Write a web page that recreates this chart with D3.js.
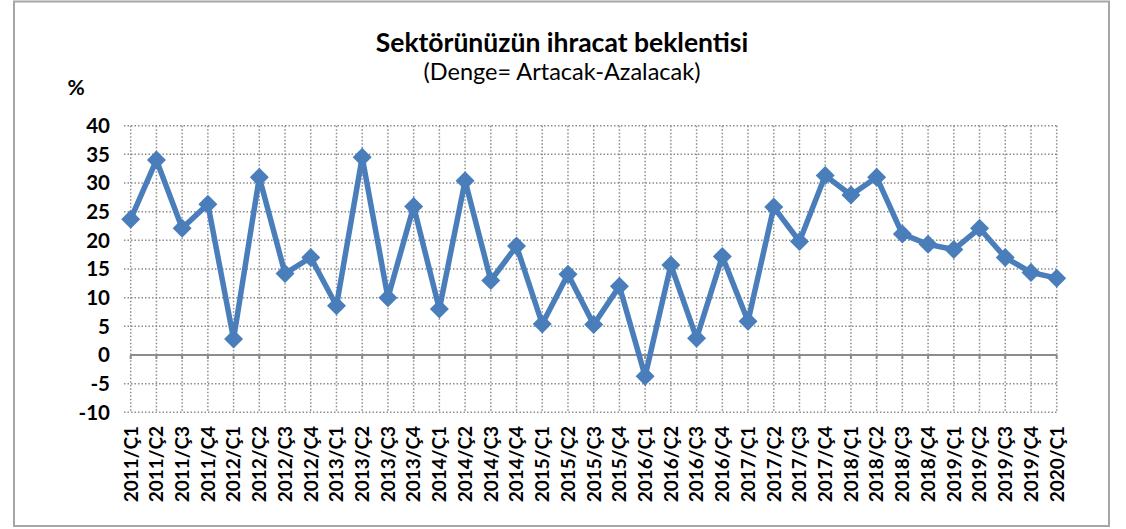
<!DOCTYPE html>
<html><head><meta charset="utf-8">
<script src="https://cdn.jsdelivr.net/npm/d3@7/dist/d3.min.js"></script>
<style>body{margin:0;background:#fff}svg{display:block}text{font-family:Lato,"Open Sans",sans-serif}</style>
</head><body><svg id="c" width="1126" height="529"></svg>
<script>
const categories = ["2011/Ç1","2011/Ç2","2011/Ç3","2011/Ç4","2012/Ç1","2012/Ç2","2012/Ç3","2012/Ç4","2013/Ç1","2013/Ç2","2013/Ç3","2013/Ç4","2014/Ç1","2014/Ç2","2014/Ç3","2014/Ç4","2015/Ç1","2015/Ç2","2015/Ç3","2015/Ç4","2016/Ç1","2016/Ç2","2016/Ç3","2016/Ç4","2017/Ç1","2017/Ç2","2017/Ç3","2017/Ç4","2018/Ç1","2018/Ç2","2018/Ç3","2018/Ç4","2019/Ç1","2019/Ç2","2019/Ç3","2019/Ç4","2020/Ç1"];
const values = [23.7,34.0,22.1,26.3,2.8,31.0,14.2,17.0,8.6,34.5,10.0,25.9,8.0,30.4,13.0,19.0,5.4,14.1,5.3,12.0,-3.7,15.7,2.9,17.2,5.9,25.8,19.8,31.3,27.9,31.0,21.1,19.3,18.4,22.1,17.0,14.4,13.4];
const yTicks = [-10,-5,0,5,10,15,20,25,30,35,40];
const title = "Sektörünüzün ihracat beklentisi";
const subtitle = "(Denge= Artacak-Azalacak)";
const unit = "%";

const svg = d3.select("#c");
const blue = "#4a7ebb", grid = "#8c8c8c";
// outer frame
svg.append("rect").attr("x",14).attr("y",1.5).attr("width",1095).attr("height",524.5)
  .attr("fill","#fff").attr("stroke","#a6a6a6").attr("stroke-width",2);

const x = d3.scalePoint().domain(categories).range([130.7,1056.7]);
const y = d3.scaleLinear().domain([-10,40]).range([412.3,125.7]);
const left = 124, right = 1056.7;

// horizontal grid
svg.append("g").selectAll("line").data(yTicks.filter(d=>d!==0)).join("line")
  .attr("x1",left).attr("x2",right).attr("y1",d=>y(d)).attr("y2",d=>y(d))
  .attr("stroke",grid).attr("stroke-width",1.5).attr("stroke-dasharray","1.5,2");
// vertical grid
svg.append("g").selectAll("line").data(categories).join("line")
  .attr("x1",d=>x(d)).attr("x2",d=>x(d)).attr("y1",y(40)).attr("y2",y(-10))
  .attr("stroke",grid).attr("stroke-width",1.5).attr("stroke-dasharray","1.5,2");
// zero axis
svg.append("line").attr("x1",x(categories[0])).attr("x2",right).attr("y1",y(0)).attr("y2",y(0))
  .attr("stroke","#8c8c8c").attr("stroke-width",2);
svg.append("g").selectAll("line").data(categories).join("line")
  .attr("x1",d=>x(d)).attr("x2",d=>x(d)).attr("y1",y(0)).attr("y2",y(0)+4)
  .attr("stroke","#8c8c8c").attr("stroke-width",2);

// y labels
svg.append("g").selectAll("text").data(yTicks).join("text")
  .attr("x",110).attr("y",d=>y(d)).attr("dy","0.36em").attr("text-anchor","end")
  .attr("font-size",20.5).attr("font-weight","bold").attr("fill","#000").text(d=>d);
// x labels
svg.append("g").selectAll("text").data(categories).join("text")
  .attr("transform",d=>`translate(${x(d)},426) rotate(-90)`).attr("dy","0.36em")
  .attr("text-anchor","end").attr("font-size",19).attr("font-weight","bold").attr("fill","#000").text(d=>d);

// line
const line = d3.line().x((d,i)=>x(categories[i])).y(d=>y(d));
svg.append("path").datum(values).attr("d",line).attr("fill","none")
  .attr("stroke",blue).attr("stroke-width",5.5).attr("stroke-linejoin","miter");
svg.append("g").selectAll("path").data(values).join("path")
  .attr("transform",(d,i)=>`translate(${x(categories[i])},${y(d)})`)
  .attr("d","M0,-9.5L9.5,0L0,9.5L-9.5,0Z").attr("fill",blue);

// titles
svg.append("text").attr("x",562).attr("y",52).attr("text-anchor","middle")
  .attr("font-size",26.5).attr("font-weight","bold").attr("fill","#000").text(title);
svg.append("text").attr("x",562).attr("y",80).attr("text-anchor","middle")
  .attr("font-size",23.5).attr("fill","#000").text(subtitle);
svg.append("text").attr("x",76).attr("y",95).attr("text-anchor","middle")
  .attr("font-size",21).attr("font-weight","bold").attr("fill","#000").text(unit);
</script></body></html>
